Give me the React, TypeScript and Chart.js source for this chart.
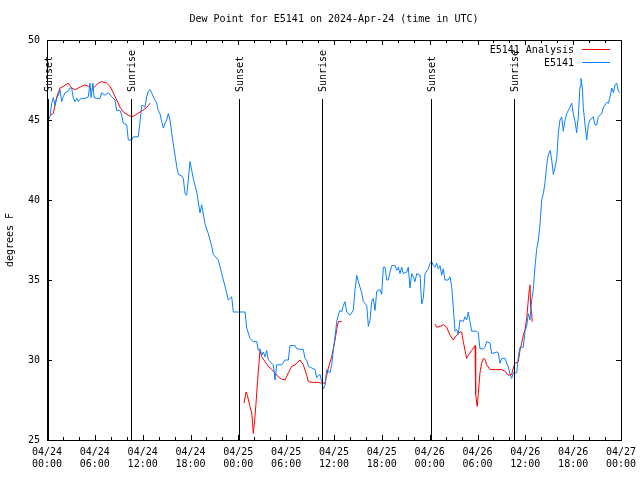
import { useEffect, useRef } from 'react';
import { Chart, registerables } from 'chart.js';

Chart.register(...registerables);

const TITLE = 'Dew Point for E5141 on 2024-Apr-24 (time in UTC)';
const Y_LABEL = 'degrees F';
const SERIES_NAMES = ['E5141 Analysis', 'E5141'];
const SERIES_COLORS = ['#ff0000', '#0a80ff'];

const X_TICK_HOURS = [0, 6, 12, 18, 24, 30, 36, 42, 48, 54, 60, 66, 72];
const X_TICK_DATES = ['04/24', '04/24', '04/24', '04/24', '04/25', '04/25', '04/25', '04/25', '04/26', '04/26', '04/26', '04/26', '04/27'];
const X_TICK_TIMES = ['00:00', '06:00', '12:00', '18:00', '00:00', '06:00', '12:00', '18:00', '00:00', '06:00', '12:00', '18:00', '00:00'];
const Y_TICKS = [25, 30, 35, 40, 45, 50];

const SUN_HOURS = [0.1, 10.5, 24.05, 34.5, 48.15, 58.55];
const SUN_LABELS = ['Sunset', 'Sunrise', 'Sunset', 'Sunrise', 'Sunset', 'Sunrise'];

// hours since 2024-04-24 00:00 UTC
const stationHours = [
  0.0, 0.16, 0.38, 0.59, 0.79, 1.0, 1.22, 1.42, 1.63, 1.84, 2.04, 2.26, 2.67, 2.89, 3.1, 3.3, 3.51, 3.73, 3.93, 4.14,
  4.35, 4.77, 5.18, 5.39, 5.52, 5.77, 5.9, 6.23, 6.65, 6.86, 7.27, 7.69, 8.12, 8.53, 8.74, 9.16, 9.37, 9.57, 10.0, 10.2,
  10.63, 10.83, 11.45, 11.67, 11.88, 12.08, 12.29, 12.51, 12.71, 12.92, 13.13, 13.33, 13.76, 13.96, 14.17, 14.39, 14.59, 14.8, 15.01, 15.22,
  15.43, 15.64, 15.84, 16.06, 16.27, 16.47, 16.9, 17.1, 17.31, 17.52, 17.72, 17.94, 18.35, 18.78, 19.19, 19.4, 19.82, 20.23, 20.66, 20.86,
  21.49, 21.91, 22.33, 22.74, 23.17, 23.37, 24.84, 25.05, 25.46, 25.88, 26.31, 26.51, 26.72, 26.93, 27.13, 27.35, 27.56, 27.76, 28.19, 28.39,
  28.6, 28.81, 29.44, 29.86, 30.27, 30.48, 31.11, 31.32, 32.15, 32.36, 32.58, 32.78, 33.21, 33.62, 33.83, 34.24, 34.46, 34.66, 34.87, 35.09,
  35.5, 35.71, 35.91, 36.13, 36.34, 36.54, 36.75, 36.97, 37.17, 37.38, 37.59, 38.01, 38.42, 38.64, 38.85, 39.05, 39.48, 39.68, 40.11, 40.31,
  40.52, 40.73, 40.93, 41.15, 41.36, 41.77, 41.98, 42.19, 42.4, 42.61, 42.81, 43.03, 43.24, 43.65, 43.87, 44.07, 44.28, 44.49, 44.69, 45.12,
  45.32, 45.53, 45.75, 45.95, 46.16, 46.37, 46.79, 47.0, 47.2, 47.42, 47.83, 48.04, 48.26, 48.46, 48.67, 48.88, 49.08, 49.3, 49.51, 49.71,
  49.92, 50.34, 50.55, 50.76, 50.96, 51.18, 51.39, 51.59, 51.8, 52.22, 52.43, 52.64, 52.84, 53.06, 53.27, 53.9, 54.1, 54.31, 54.73, 54.94,
  55.15, 55.57, 55.78, 56.41, 56.61, 56.82, 57.04, 57.45, 57.66, 57.86, 58.08, 58.29, 58.49, 58.92, 59.12, 59.33, 59.75, 59.96, 60.17, 60.37,
  60.58, 60.8, 61.0, 61.21, 61.42, 61.63, 61.84, 62.05, 62.26, 62.47, 62.68, 62.88, 63.1, 63.31, 63.51, 63.72, 63.94, 64.14, 64.35, 64.56,
  64.76, 64.98, 65.19, 65.39, 65.6, 65.82, 66.02, 66.23, 66.44, 66.64, 66.86, 66.98, 67.15, 67.27, 67.49, 67.7, 67.9, 68.11, 68.53, 68.74,
  68.95, 69.16, 69.58, 69.79, 70.22, 70.42, 70.63, 70.84, 71.05, 71.25, 71.47, 71.67, 71.88,
];
const stationDew = [
  45.0, 45.0, 45.2, 46.05, 46.4, 45.9, 46.35, 46.55, 46.9, 46.15, 46.45, 46.7, 46.8, 47.0, 47.0, 46.35, 46.15, 46.35, 46.15, 46.3,
  46.35, 46.35, 46.45, 47.3, 46.4, 47.3, 46.4, 46.35, 46.35, 46.7, 46.55, 46.7, 46.45, 46.25, 45.6, 45.6, 45.3, 44.8, 44.7, 43.75,
  43.75, 43.95, 43.95, 44.9, 45.9, 45.9, 45.8, 46.45, 46.8, 46.9, 46.7, 46.45, 46.05, 45.6, 45.4, 44.9, 44.5, 44.8, 45.0, 45.4,
  45.0, 44.2, 43.5, 42.8, 42.1, 41.6, 41.5, 41.35, 40.4, 40.3, 41.25, 42.4, 41.35, 40.5, 39.2, 39.7, 38.5, 37.9, 37.1, 36.6,
  36.25, 35.4, 34.6, 33.75, 33.95, 33.0, 33.0, 32.0, 31.35, 31.15, 31.15, 30.6, 30.7, 30.3, 30.5, 30.2, 30.6, 30.0, 29.8, 29.7,
  28.75, 29.7, 29.7, 30.0, 30.0, 30.9, 30.9, 30.7, 30.65, 30.1, 30.0, 29.6, 29.5, 29.4, 28.9, 29.1, 28.65, 28.2, 28.4, 29.4,
  29.2, 29.7, 30.6, 31.45, 32.4, 32.8, 33.1, 33.0, 33.4, 33.65, 33.0, 32.8, 33.1, 34.4, 35.3, 34.9, 34.2, 33.65, 33.4, 32.1,
  32.5, 33.65, 33.85, 33.1, 34.3, 34.4, 34.1, 35.8, 35.8, 35.0, 35.0, 35.5, 35.9, 35.9, 35.6, 35.8, 35.4, 35.8, 35.4, 35.5,
  35.8, 34.5, 35.4, 35.2, 34.9, 35.4, 35.3, 33.5, 33.85, 35.4, 35.7, 36.05, 36.15, 35.9, 35.8, 36.05, 35.7, 35.9, 35.3, 35.7,
  35.0, 35.0, 35.2, 34.6, 33.3, 31.8, 31.9, 31.6, 32.5, 32.4, 32.7, 32.5, 33.0, 32.4, 31.8, 31.8, 31.7, 30.7, 30.7, 30.8,
  31.15, 31.05, 30.4, 30.5, 30.45, 29.8, 30.1, 30.1, 29.8, 29.6, 29.1, 28.85, 29.2, 29.2, 30.2, 30.8, 30.8, 31.8, 32.1, 32.9,
  32.5, 33.75, 34.4, 35.8, 36.9, 37.5, 38.5, 40.0, 40.4, 41.1, 42.2, 42.8, 43.1, 42.5, 41.6, 42.0, 42.6, 44.2, 45.0, 45.2,
  44.3, 45.0, 45.4, 45.6, 45.8, 46.05, 45.4, 44.9, 44.2, 45.2, 47.1, 47.6, 47.0, 45.8, 44.7, 43.75, 44.7, 45.0, 45.2, 44.7,
  44.7, 45.2, 45.4, 45.8, 46.1, 46.05, 46.45, 47.0, 46.7, 47.2, 47.3, 46.8, 46.7,
];

// analysis series; null marks a gap in the data
const analysisHours = [
  0.38, 0.79, 1.22, 1.63, 2.04, 2.67, 3.1, 3.51, 3.93, 4.35, 4.77, 5.18, 5.6, 6.02, 6.43, 6.86, 7.49, 7.9, 8.32, 8.74,
  9.16, 9.57, 10.2, 10.63, 11.04, 11.67, 12.29, 12.71, 12.92,
  18.0,
  24.71, 24.96, 25.13, 25.46, 25.68, 25.8, 25.88, 26.05, 26.22, 26.38, 26.59, 26.72, 26.93, 27.35, 27.76, 28.19, 28.6, 29.01, 29.44, 29.86,
  30.27, 30.69, 31.11, 31.74, 32.15, 32.58, 32.78, 33.4, 34.03, 34.46, 34.87, 35.09, 35.29, 35.71, 35.91, 36.13, 36.34, 36.54, 36.97,
  42.0,
  48.67, 48.88, 49.3, 49.71, 50.13, 50.55, 50.96, 51.39, 51.8, 52.0, 52.22, 52.43, 52.64, 52.84, 53.27, 53.69, 53.77, 53.9, 53.97, 54.1,
  54.31, 54.52, 54.73, 54.94, 55.15, 55.57, 56.2, 57.04, 57.45, 57.86, 58.29, 58.49, 58.71, 59.12, 59.33, 59.54, 59.75, 59.96, 60.17, 60.37,
  60.5, 60.58, 60.67, 60.8, 60.86,
];
const analysisDew = [
  45.3, 45.4, 46.45, 47.0, 47.1, 47.3, 47.0, 46.9, 47.0, 47.1, 47.2, 47.1, 46.9, 47.1, 47.3, 47.4, 47.3, 47.1, 46.7, 46.25,
  45.8, 45.5, 45.3, 45.2, 45.3, 45.5, 45.7, 45.9, 46.05,
  null,
  27.3, 28.0, 27.8, 27.1, 26.7, 26.0, 25.4, 26.25, 27.3, 28.5, 29.8, 30.6, 30.2, 29.9, 29.6, 29.4, 29.2, 28.95, 28.8, 28.75,
  29.2, 29.6, 29.7, 30.0, 29.7, 29.05, 28.65, 28.6, 28.6, 28.55, 28.55, 29.05, 29.5, 30.2, 30.7, 31.25, 31.9, 32.4, 32.4,
  null,
  32.25, 32.05, 32.1, 32.2, 32.05, 31.55, 31.25, 31.55, 31.75, 31.75, 31.15, 30.6, 30.1, 30.3, 30.6, 30.9, 27.9, 27.3, 27.1, 27.9,
  29.2, 29.8, 30.1, 30.05, 29.7, 29.4, 29.4, 29.4, 29.3, 29.05, 29.1, 29.5, 29.8, 29.9, 30.6, 31.05, 31.55, 31.9, 32.6, 33.75,
  34.4, 34.7, 33.3, 32.9, 32.4,
];

const FONT_FAMILY = '"DejaVu Sans Mono", "Liberation Mono", monospace';

const decorPlugin = {
  id: 'decor',
  afterDatasetsDraw(chart: any) {
    const { ctx, chartArea, scales } = chart;
    const xs = scales.x;
    const ys = scales.y;
    const { left, right, top, bottom } = chartArea;
    ctx.save();
    ctx.fillStyle = '#000';
    ctx.strokeStyle = '#000';
    ctx.lineWidth = 1;
    ctx.font = `10px ${FONT_FAMILY}`;

    // sunrise / sunset markers
    SUN_HOURS.forEach((h, i) => {
      const px = Math.round(xs.getPixelForValue(h)) + 0.5;
      ctx.beginPath();
      ctx.moveTo(px, bottom);
      ctx.lineTo(px, top + 59);
      ctx.stroke();
      ctx.save();
      ctx.translate(px + 0.5, top + 52);
      ctx.rotate(-Math.PI / 2);
      ctx.textAlign = 'left';
      ctx.textBaseline = 'middle';
      ctx.fillText(SUN_LABELS[i], 0, 0);
      ctx.restore();
    });

    // tick marks (inward, mirrored)
    for (let h = 0; h <= 72; h += 2) {
      const px = Math.round(xs.getPixelForValue(h)) + 0.5;
      const len = h % 6 === 0 ? 5 : 3;
      ctx.beginPath();
      ctx.moveTo(px, bottom);
      ctx.lineTo(px, bottom - len);
      ctx.moveTo(px, top);
      ctx.lineTo(px, top + len);
      ctx.stroke();
    }
    Y_TICKS.forEach((v) => {
      const py = Math.round(ys.getPixelForValue(v)) + 0.5;
      ctx.beginPath();
      ctx.moveTo(left, py);
      ctx.lineTo(left + 5, py);
      ctx.moveTo(right, py);
      ctx.lineTo(right - 5, py);
      ctx.stroke();
    });

    // border
    ctx.strokeRect(Math.round(left) + 0.5, Math.round(top) + 0.5, Math.round(right - left), Math.round(bottom - top));

    // legend
    ctx.textAlign = 'right';
    ctx.textBaseline = 'middle';
    SERIES_NAMES.forEach((name, i) => {
      const y = top + 10 + i * 13;
      ctx.fillStyle = '#000';
      ctx.fillText(name, right - 47, y);
      ctx.strokeStyle = SERIES_COLORS[i];
      ctx.beginPath();
      ctx.moveTo(right - 39, Math.round(y) - 0.5);
      ctx.lineTo(right - 11, Math.round(y) - 0.5);
      ctx.stroke();
    });

    // title
    ctx.fillStyle = '#000';
    ctx.textAlign = 'center';
    ctx.textBaseline = 'middle';
    ctx.fillText(TITLE, (left + right) / 2, 19);

    // y axis title
    ctx.save();
    ctx.translate(10, (top + bottom) / 2);
    ctx.rotate(-Math.PI / 2);
    ctx.fillText(Y_LABEL, 0, 0);
    ctx.restore();

    ctx.restore();
  },
};

export default function App() {
  const canvasRef = useRef<HTMLCanvasElement | null>(null);

  useEffect(() => {
    if (!canvasRef.current) return;
    const stationPoints = stationHours.map((h, i) => ({ x: h, y: stationDew[i] }));
    const analysisPoints = analysisHours.map((h, i) => ({ x: h, y: analysisDew[i] }));
    const font = { family: FONT_FAMILY, size: 10 };

    const chart = new Chart(canvasRef.current, {
      type: 'line',
      data: {
        datasets: [
          {
            label: SERIES_NAMES[0],
            data: analysisPoints as any,
            borderColor: SERIES_COLORS[0],
            borderWidth: 1,
            pointRadius: 0,
            tension: 0,
            spanGaps: false,
            order: 1,
          },
          {
            label: SERIES_NAMES[1],
            data: stationPoints as any,
            borderColor: SERIES_COLORS[1],
            borderWidth: 1,
            pointRadius: 0,
            tension: 0,
            order: 0,
          },
        ],
      },
      options: {
        responsive: false,
        animation: false,
        events: [],
        layout: { padding: { top: 40, right: 19, left: 0, bottom: 0 } },
        plugins: {
          legend: { display: false },
          title: { display: false },
          tooltip: { enabled: false },
        },
        scales: {
          x: {
            type: 'linear',
            min: 0,
            max: 72,
            afterBuildTicks: (scale: any) => {
              scale.ticks = X_TICK_HOURS.map((v) => ({ value: v }));
            },
            afterFit: (scale: any) => {
              scale.height = 40;
              scale.paddingLeft = 0;
              scale.paddingRight = 0;
            },
            ticks: {
              autoSkip: false,
              maxRotation: 0,
              minRotation: 0,
              padding: 6,
              color: '#000',
              font,
              callback: (_v: any, i: number) => [X_TICK_DATES[i], X_TICK_TIMES[i]],
            },
            grid: { display: false, drawTicks: false },
            border: { display: false },
          },
          y: {
            type: 'linear',
            min: 25,
            max: 50,
            afterBuildTicks: (scale: any) => {
              scale.ticks = Y_TICKS.map((v) => ({ value: v }));
            },
            afterFit: (scale: any) => {
              scale.width = 47;
              scale.paddingTop = 0;
              scale.paddingBottom = 0;
            },
            ticks: {
              padding: 7,
              color: '#000',
              font,
              callback: (v: any) => String(v),
            },
            grid: { display: false, drawTicks: false },
            border: { display: false },
          },
        },
      },
      plugins: [decorPlugin],
    });
    return () => chart.destroy();
  }, []);

  return (
    <div style={{ position: 'absolute', left: 0, top: 0, width: 640, height: 480, background: '#fff' }}>
      <canvas ref={canvasRef} width={640} height={480} style={{ display: 'block' }} />
    </div>
  );
}
